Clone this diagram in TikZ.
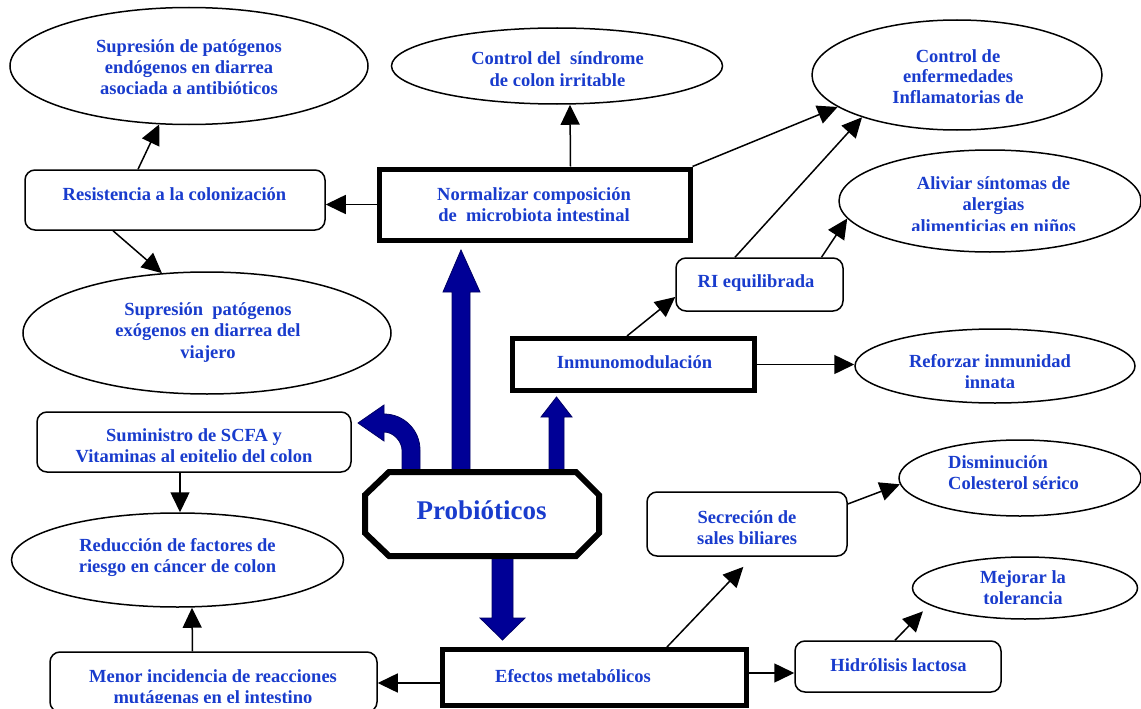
\documentclass[tikz,border=0pt]{standalone}
\usepackage{fontspec}
\setmainfont{Liberation Serif}
\usetikzlibrary{arrows.meta,shapes.geometric}
\definecolor{txtblue}{RGB}{25,60,205}
\definecolor{navyfill}{RGB}{0,0,150}
\definecolor{navyline}{RGB}{0,0,100}
\begin{document}
\begin{tikzpicture}[x=1pt,y=-1pt,
  ell/.style={draw, ellipse, line width=1.5pt, inner sep=0pt},
  rbox/.style={draw, rounded corners=10pt, line width=1.5pt, inner sep=0pt},
  tbox/.style={draw, line width=5pt, inner sep=0pt},
  txt/.style={text=txtblue, font=\bfseries\fontsize{18.5}{21.5}\selectfont, align=center, anchor=base, inner sep=0pt},
  arr/.style={line width=1.5pt, -{Triangle[length=20pt,width=19pt]}},
  bluearrow/.style={fill=navyfill, draw=navyline, line width=0.8pt}]
\fill[white] (0,0) rectangle (1141,709);
\useasboundingbox (0,0) rectangle (1141,709);

% ---------- ellipses ----------
\node[ell, minimum width=358pt, minimum height=117pt] (endo) at (189,66) {};
\node[ell, minimum width=331pt, minimum height=76pt] (colon) at (557,66) {};
\node[ell, minimum width=290pt, minimum height=110pt] (infl) at (957,75) {};
\node[ell, minimum width=302pt, minimum height=102pt] (alerg) at (990,201) {};
\node[ell, minimum width=368pt, minimum height=122pt] (exo) at (207,333) {};
\node[ell, minimum width=280pt, minimum height=74pt] (ref) at (995,366) {};
\node[ell, minimum width=242pt, minimum height=76pt] (col) at (1020,478) {};
\node[ell, minimum width=332pt, minimum height=94pt] (red) at (177.5,560) {};
\node[ell, minimum width=225pt, minimum height=62pt] (mej) at (1025,588) {};

% ---------- boxes ----------
\node[rbox, minimum width=300pt, minimum height=60pt] (res) at (175,200) {};
\node[tbox, minimum width=311pt, minimum height=71pt] (norm) at (534.5,204.5) {};
\node[rbox, minimum width=167pt, minimum height=53pt] (ri) at (759.5,284.5) {};
\node[tbox, minimum width=242pt, minimum height=52pt] (inm) at (633.5,364.5) {};
\node[rbox, minimum width=314pt, minimum height=60pt] (sum) at (194,442) {};
\node[rbox, minimum width=327pt, minimum height=60pt] (men) at (213.5,682) {};
\node[tbox, minimum width=304pt, minimum height=56pt] (efe) at (594.5,677.5) {};
\node[rbox, minimum width=200pt, minimum height=64pt] (sec) at (747,524) {};
\node[rbox, minimum width=206pt, minimum height=51pt] (hid) at (898,666.5) {};

% ---------- texts (anchor = baseline of last line) ----------
\node[txt] (tendo) at (189,95) {Supresión de patógenos\\endógenos en diarrea\\asociada a antibióticos};
\begin{scope}
\clip (392,20) rectangle (723,85.5);
\node[txt] (tcolon) at (557.5,86.5) {Control del \ síndrome\\de colon irritable};
\end{scope}
\node[txt, font=\bfseries\fontsize{18.5}{20.5}\selectfont] (tinfl) at (958,103) {Control de\\enfermedades\\Inflamatorias de};
\begin{scope}
\clip (839,150) rectangle (1141,230);
\node[txt] (talerg) at (993.5,232) {Aliviar síntomas de\\alergias\\alimenticias en niños};
\end{scope}
\node[txt] (tres) at (174.5,200) {Resistencia a la colonización};
\node[txt] (tnorm) at (534,221.5) {Normalizar composición\\de \ microbiota intestinal};
\node[txt] (texo) at (208,358) {Supresión \ patógenos\\exógenos en diarrea del\\viajero};
\node[txt] (tri) at (756,287) {RI equilibrada};
\node[txt] (tinm) at (634.5,368) {Inmunomodulación};
\begin{scope}
\clip (855,330) rectangle (1135,387);
\node[txt] (tref) at (990,388.5) {Reforzar inmunidad\\innata};
\end{scope}
\begin{scope}
\clip (37,412) rectangle (351,461);
\node[txt] (tsum) at (194,462.5) {Suministro de SCFA y\\Vitaminas al epitelio del colon};
\end{scope}
\node[txt] (tred) at (177.5,572.5) {Reducción de factores de\\riesgo en cáncer de colon};
\begin{scope}
\clip (50,652) rectangle (377,702);
\node[txt] (tmen) at (213,703.5) {Menor incidencia de reacciones\\mutágenas en el intestino};
\end{scope}
\node[txt] (tefe) at (573,682) {Efectos metabólicos};
\node[txt] (tsec) at (747,544.5) {Secreción de\\sales biliares};
\node[txt] (thid) at (898.5,671) {Hidrólisis lactosa};
\node[txt, align=left, anchor=base west] (tcol) at (948,489.5) {Disminución\\Colesterol sérico};
\begin{scope}
\clip (913,557) rectangle (1138,603);
\node[txt] (tmej) at (1023,604.5) {Mejorar la\\tolerancia};
\end{scope}

% ---------- connectors ----------
\draw[arr] ([xshift=-37pt]res.north) -- (endo.-117.7);
\draw[arr] ([xshift=-62pt]res.south) -- (exo.127.4);
\draw[arr] (norm.west) -- ([yshift=-4.5pt]res.east);
\draw[arr] ([xshift=36pt]norm.north) -- ([xshift=13pt]colon.south);
\draw[arr] (norm.north east) -- (infl.-165.5);
\draw[arr] ([xshift=-24.5pt]ri.north) -- (infl.-156.6);
\draw[arr] ([xshift=62pt]ri.north) -- (alerg.-173);
\draw[arr] ([xshift=-6.5pt]inm.north) -- ([yshift=-12.5pt]ri.west);
\draw[arr] ([xshift=-4pt]inm.east) -- (inm.east -| ref.west);
\draw[arr] ([xshift=-14pt]sum.south) -- ([xshift=2.5pt]red.north);
\draw[arr] ([xshift=-21pt]men.north) -- ([xshift=14.5pt]red.south);
\draw[arr] ([yshift=-5.5pt]efe.west) -- ([yshift=-1pt]men.east);
\draw[arr] ([yshift=4.5pt]efe.east) -- ([yshift=-6.5pt]hid.west);
\draw[arr, shorten >=14pt] ([xshift=72.5pt]efe.north) -- ([xshift=6pt]sec.south);
\draw[arr] ([yshift=20pt]sec.east) -- (col.-177.6);
\draw[arr, shorten >=9pt] ([xshift=-3pt]hid.north) -- (mej.-170);

% ---------- blue block arrows ----------
\draw[bluearrow] (452,472) -- (452,292) -- (443,292) -- (461,250) -- (480,292) -- (470,292) -- (470,472) -- cycle;
\draw[bluearrow] (549,472) -- (549,417) -- (541,417) -- (556.5,397) -- (572,417) -- (564,417) -- (564,472) -- cycle;
\draw[bluearrow] (492,556) -- (492,618) -- (480,618) -- (502.5,640) -- (525,618) -- (513,618) -- (513,556) -- cycle;
\draw[bluearrow] (402,472) -- (402,450) .. controls (402,441.9) and (393.9,432) .. (384,432)
  -- (384,441) -- (358,423) -- (384,405) -- (384,414)
  .. controls (403.9,414) and (420,430.1) .. (420,450) -- (420,472) -- cycle;

% ---------- Probióticos octagon ----------
\draw[line width=6pt, fill=white] (389,472) -- (576,472) -- (599,495) -- (599,533) -- (576,556) -- (389,556) -- (365,533) -- (365,495) -- cycle;
\node[txt, font=\bfseries\fontsize{27}{30}\selectfont] (prob) at (481.5,519) {Probióticos};
\end{tikzpicture}
\end{document}
